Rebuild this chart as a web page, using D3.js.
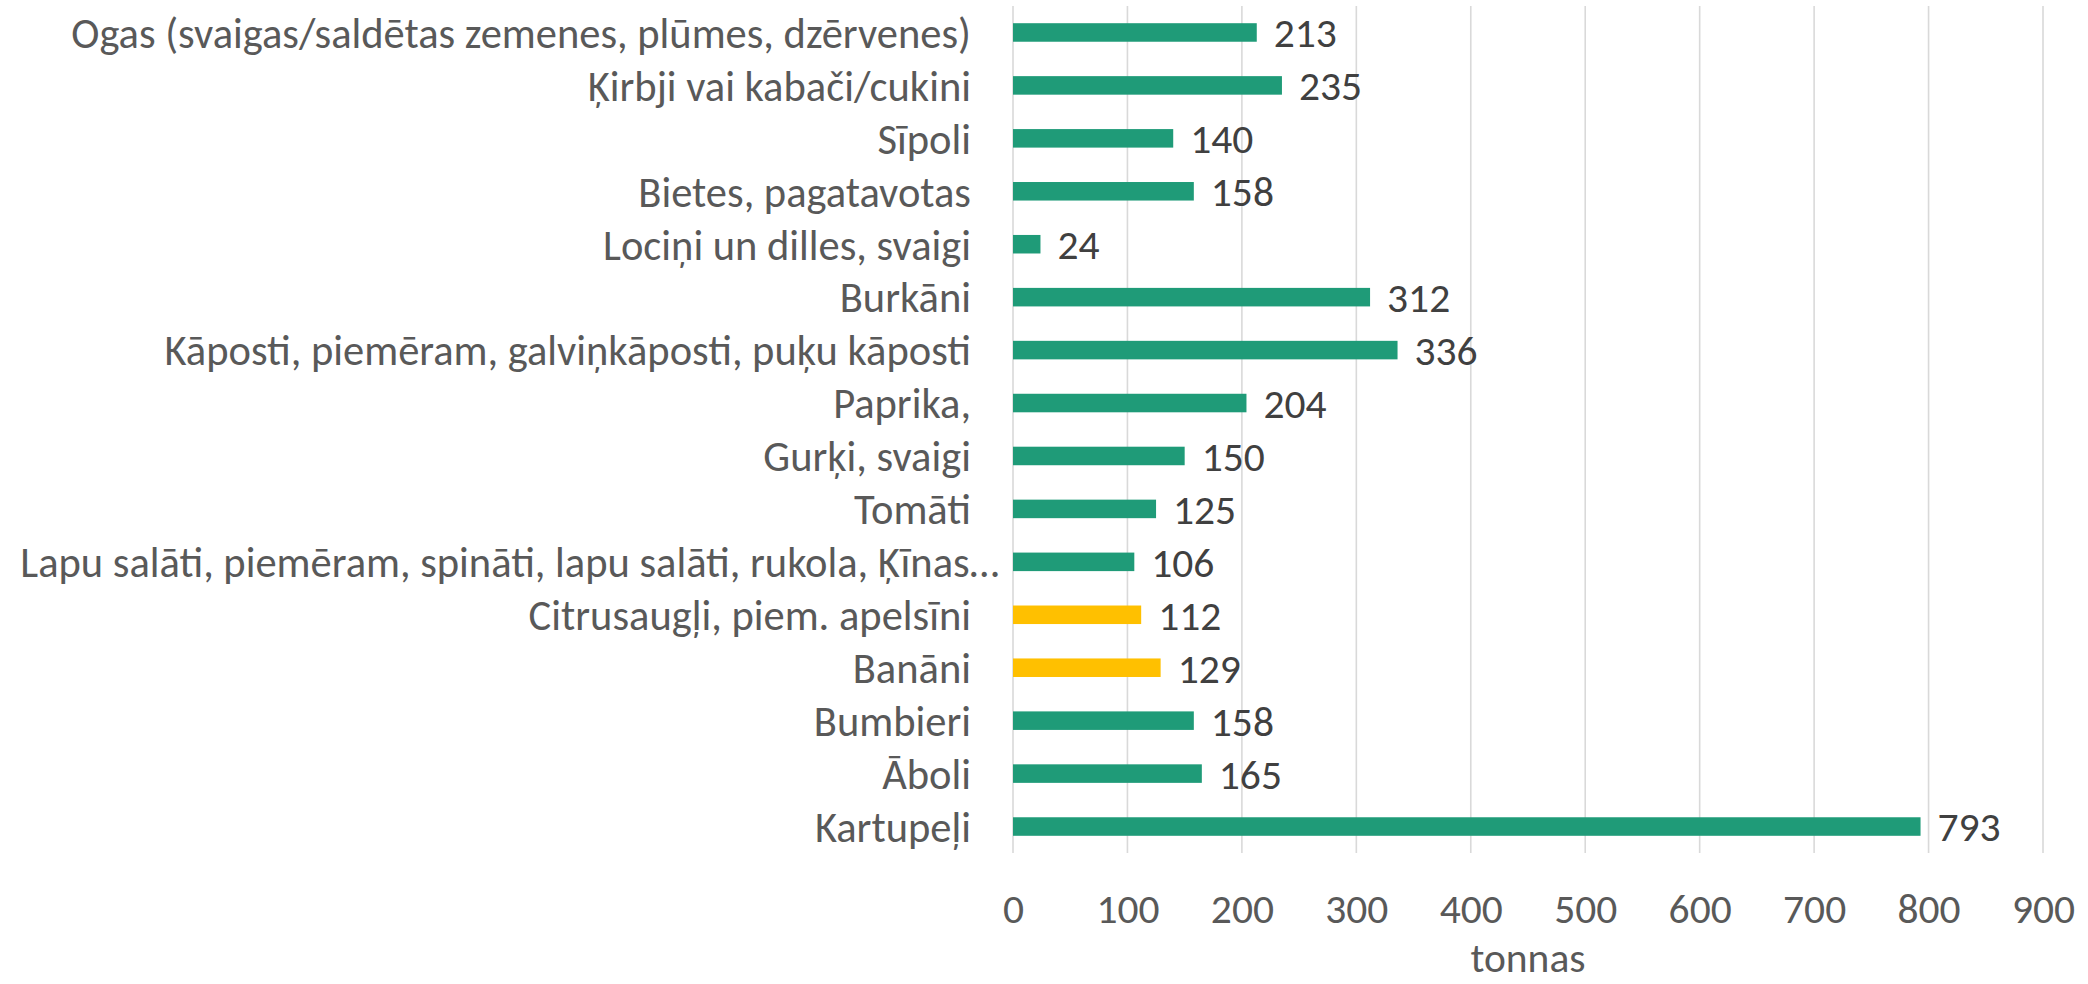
<!DOCTYPE html>
<html>
<head>
<meta charset="utf-8">
<script src="https://cdn.jsdelivr.net/npm/d3@7"></script>
<style>
html,body{margin:0;padding:0;background:#fff;}
svg text{font-family:Carlito, Calibri, Lato, sans-serif;}
</style>
</head>
<body>
<svg id="chart" width="2088" height="984"></svg>
<script>
const categories = [
  "Ogas (svaigas/saldētas zemenes, plūmes, dzērvenes)",
  "Ķirbji vai kabači/cukini",
  "Sīpoli",
  "Bietes, pagatavotas",
  "Lociņi un dilles, svaigi",
  "Burkāni",
  "Kāposti, piemēram, galviņkāposti, puķu kāposti",
  "Paprika,",
  "Gurķi, svaigi",
  "Tomāti",
  "Lapu salāti, piemēram, spināti, lapu salāti, rukola, Ķīnas…",
  "Citrusaugļi, piem. apelsīni",
  "Banāni",
  "Bumbieri",
  "Āboli",
  "Kartupeļi"
];
const values = [213, 235, 140, 158, 24, 312, 336, 204, 150, 125, 106, 112, 129, 158, 165, 793];
const groups = ["local","local","local","local","local","local","local","local","local","local","local","imported","imported","local","local","local"];
const xTicks = [0,100,200,300,400,500,600,700,800,900];
const axisTitle = "tonnas";

(function(){
const colorMap = {local:"#1f9b78", imported:"#ffc000"};
const fs = 41.5, fsCat = 42.5;

const svg = d3.select("#chart");
const mLeft = 1013, mRight = 2043, mTop = 6, mBottom = 853;

const x = d3.scaleLinear().domain([0,900]).range([mLeft,mRight]);
const y = d3.scaleBand().domain(categories).range([mTop,mBottom]).paddingInner(0.65).paddingOuter(0.325);

// gridlines
svg.append("g").selectAll("line").data(xTicks).join("line")
  .attr("x1", d=>x(d)).attr("x2", d=>x(d))
  .attr("y1", mTop).attr("y2", mBottom)
  .attr("stroke", "#d9d9d9").attr("stroke-width", 1.6);

// bars
svg.append("g").selectAll("rect").data(categories).join("rect")
  .attr("x", x(0))
  .attr("y", d=>y(d))
  .attr("width", (d,i)=>x(values[i]) - x(0))
  .attr("height", y.bandwidth())
  .attr("fill", (d,i)=>colorMap[groups[i]]);

// data labels
svg.append("g").selectAll("text").data(categories).join("text")
  .attr("x", (d,i)=>x(values[i]) + 17)
  .attr("y", d=>y(d) + y.bandwidth()/2)
  .attr("dy", "0.36em")
  .attr("font-size", fs)
  .attr("fill", "#404040")
  .text((d,i)=>values[i]);

// category labels
svg.append("g").selectAll("text").data(categories).join("text")
  .attr("x", (d,i)=> d.endsWith("…") ? 999 : 971)
  .attr("y", d=>y(d) + y.bandwidth()/2)
  .attr("dy", "0.36em")
  .attr("text-anchor", "end")
  .attr("font-size", fsCat)
  .attr("fill", "#595959")
  .text(d=>d);

// x axis tick labels
const xAxis = d3.axisBottom(x).tickValues(xTicks).tickSize(0).tickPadding(0);
const gx = svg.append("g").attr("transform", `translate(0,${mBottom})`).call(xAxis);
gx.select(".domain").remove();
gx.selectAll("text")
  .attr("y", 55).attr("dy", "0.36em")
  .attr("font-size", fs)
  .attr("font-family", "Carlito, Calibri, Lato, sans-serif")
  .attr("fill", "#595959");

// axis title
svg.append("text")
  .attr("x", (mLeft+mRight)/2)
  .attr("y", 972)
  .attr("text-anchor", "middle")
  .attr("font-size", fs)
  .attr("fill", "#595959")
  .text(axisTitle);
})();
</script>
</body>
</html>
